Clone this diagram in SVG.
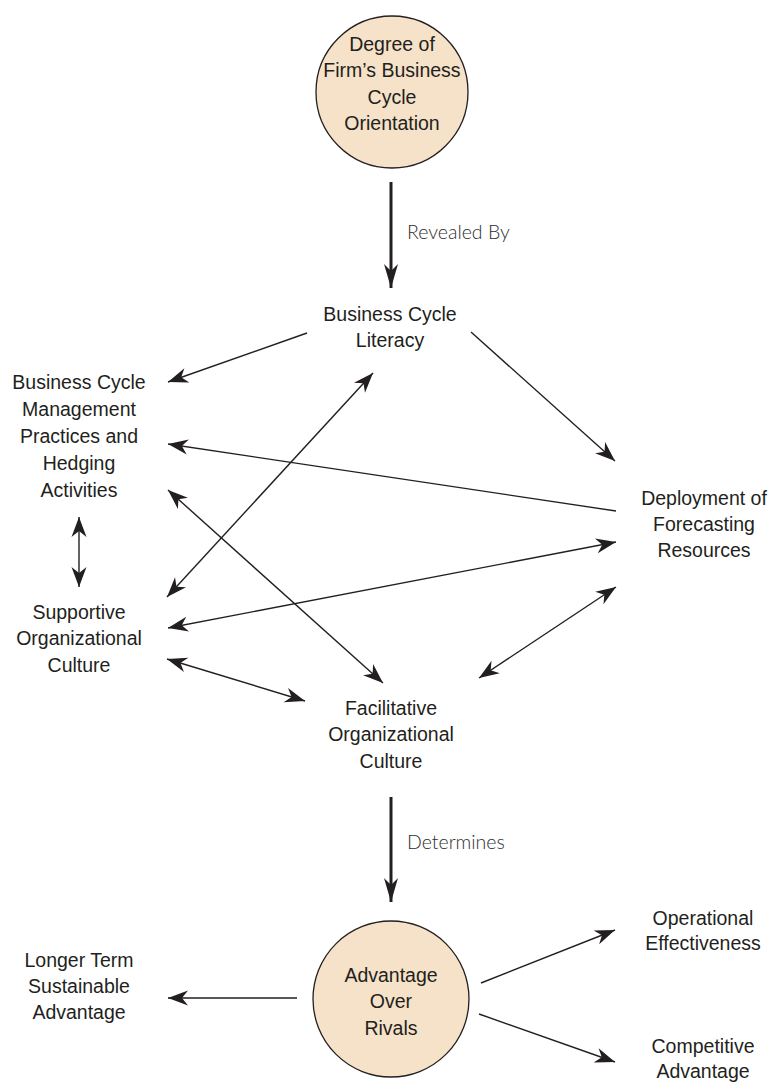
<svg xmlns="http://www.w3.org/2000/svg" width="776" height="1085" viewBox="0 0 776 1085">
  <style>
    .lbl { font-family: "Liberation Sans", Arial, sans-serif; font-size: 19.5px; fill: #231f20; text-anchor: middle; }
    .edge-lbl { font-family: "Lato", "Liberation Sans", sans-serif; font-weight: 300; font-size: 19.5px; fill: #2e2e2e; }
    .circ { fill: #f5e2c8; stroke: #231f20; stroke-width: 1.3; }
    .thin { stroke: #231f20; stroke-width: 1.4; fill: none; }
    .thick { stroke: #231f20; stroke-width: 3; fill: none; }
  </style>
  <defs>
    <marker id="ah" markerUnits="userSpaceOnUse" viewBox="-21 -8 22 16" markerWidth="22" markerHeight="16" refX="0" refY="0" orient="auto-start-reverse">
      <path d="M0,0 L-20,-7.5 L-14,0 L-20,7.5 Z" fill="#231f20"/>
    </marker>
    <marker id="ahb" markerUnits="userSpaceOnUse" viewBox="-25 -8 26 16" markerWidth="26" markerHeight="16" refX="0" refY="0" orient="auto-start-reverse">
      <path d="M0,0 L-24,-7 L-17,0 L-24,7 Z" fill="#231f20"/>
    </marker>
  </defs>
  <rect width="776" height="1085" fill="#ffffff"/>

  <g id="connectors">
    <line class="thick" x1="391" y1="182" x2="391" y2="288" marker-end="url(#ahb)"/>
    <line class="thick" x1="391" y1="797" x2="391" y2="902" marker-end="url(#ahb)"/>
    <line class="thin" x1="307" y1="333" x2="168" y2="382" marker-end="url(#ah)"/>
    <line class="thin" x1="471" y1="332" x2="615" y2="461" marker-end="url(#ah)"/>
    <line class="thin" x1="167" y1="597" x2="373" y2="373" marker-start="url(#ah)" marker-end="url(#ah)"/>
    <line class="thin" x1="616" y1="511" x2="168" y2="444" marker-end="url(#ah)"/>
    <line class="thin" x1="168" y1="490" x2="383" y2="683" marker-start="url(#ah)" marker-end="url(#ah)"/>
    <line class="thin" x1="168" y1="628" x2="616" y2="542" marker-start="url(#ah)" marker-end="url(#ah)"/>
    <line class="thin" x1="616" y1="587" x2="479" y2="678" marker-start="url(#ah)" marker-end="url(#ah)"/>
    <line class="thin" x1="167" y1="659" x2="305" y2="701" marker-start="url(#ah)" marker-end="url(#ah)"/>
    <line class="thin" x1="79" y1="517" x2="79" y2="587" marker-start="url(#ah)" marker-end="url(#ah)"/>
    <line class="thin" x1="297" y1="998" x2="168" y2="998" marker-end="url(#ah)"/>
    <line class="thin" x1="481" y1="983" x2="615" y2="930" marker-end="url(#ah)"/>
    <line class="thin" x1="479" y1="1014" x2="615" y2="1062" marker-end="url(#ah)"/>
    <text class="edge-lbl" x="407" y="239">Revealed By</text>
    <text class="edge-lbl" x="407" y="849">Determines</text>
  </g>

  <g id="orientation">
    <circle class="circ" cx="392" cy="92" r="76"/>
    <text class="lbl" x="392" y="51">Degree of</text>
    <text class="lbl" x="392" y="77">Firm’s Business</text>
    <text class="lbl" x="392" y="104">Cycle</text>
    <text class="lbl" x="392" y="130">Orientation</text>
  </g>

  <g id="literacy">
    <text class="lbl" x="390" y="321">Business Cycle</text>
    <text class="lbl" x="390" y="347">Literacy</text>
  </g>

  <g id="management">
    <text class="lbl" x="79" y="389">Business Cycle</text>
    <text class="lbl" x="79" y="416">Management</text>
    <text class="lbl" x="79" y="443">Practices and</text>
    <text class="lbl" x="79" y="470">Hedging</text>
    <text class="lbl" x="79" y="497">Activities</text>
  </g>

  <g id="deployment">
    <text class="lbl" x="704" y="505">Deployment of</text>
    <text class="lbl" x="704" y="531">Forecasting</text>
    <text class="lbl" x="704" y="557">Resources</text>
  </g>

  <g id="supportive">
    <text class="lbl" x="79" y="619">Supportive</text>
    <text class="lbl" x="79" y="645">Organizational</text>
    <text class="lbl" x="79" y="672">Culture</text>
  </g>

  <g id="facilitative">
    <text class="lbl" x="391" y="715">Facilitative</text>
    <text class="lbl" x="391" y="741">Organizational</text>
    <text class="lbl" x="391" y="768">Culture</text>
  </g>

  <g id="advantage">
    <circle class="circ" cx="391" cy="999" r="78"/>
    <text class="lbl" x="391" y="982">Advantage</text>
    <text class="lbl" x="391" y="1008">Over</text>
    <text class="lbl" x="391" y="1035">Rivals</text>
  </g>

  <g id="longer-term">
    <text class="lbl" x="79" y="967">Longer Term</text>
    <text class="lbl" x="79" y="993">Sustainable</text>
    <text class="lbl" x="79" y="1019">Advantage</text>
  </g>

  <g id="operational">
    <text class="lbl" x="703" y="925">Operational</text>
    <text class="lbl" x="703" y="950">Effectiveness</text>
  </g>

  <g id="competitive">
    <text class="lbl" x="703" y="1053">Competitive</text>
    <text class="lbl" x="703" y="1078">Advantage</text>
  </g>
</svg>
